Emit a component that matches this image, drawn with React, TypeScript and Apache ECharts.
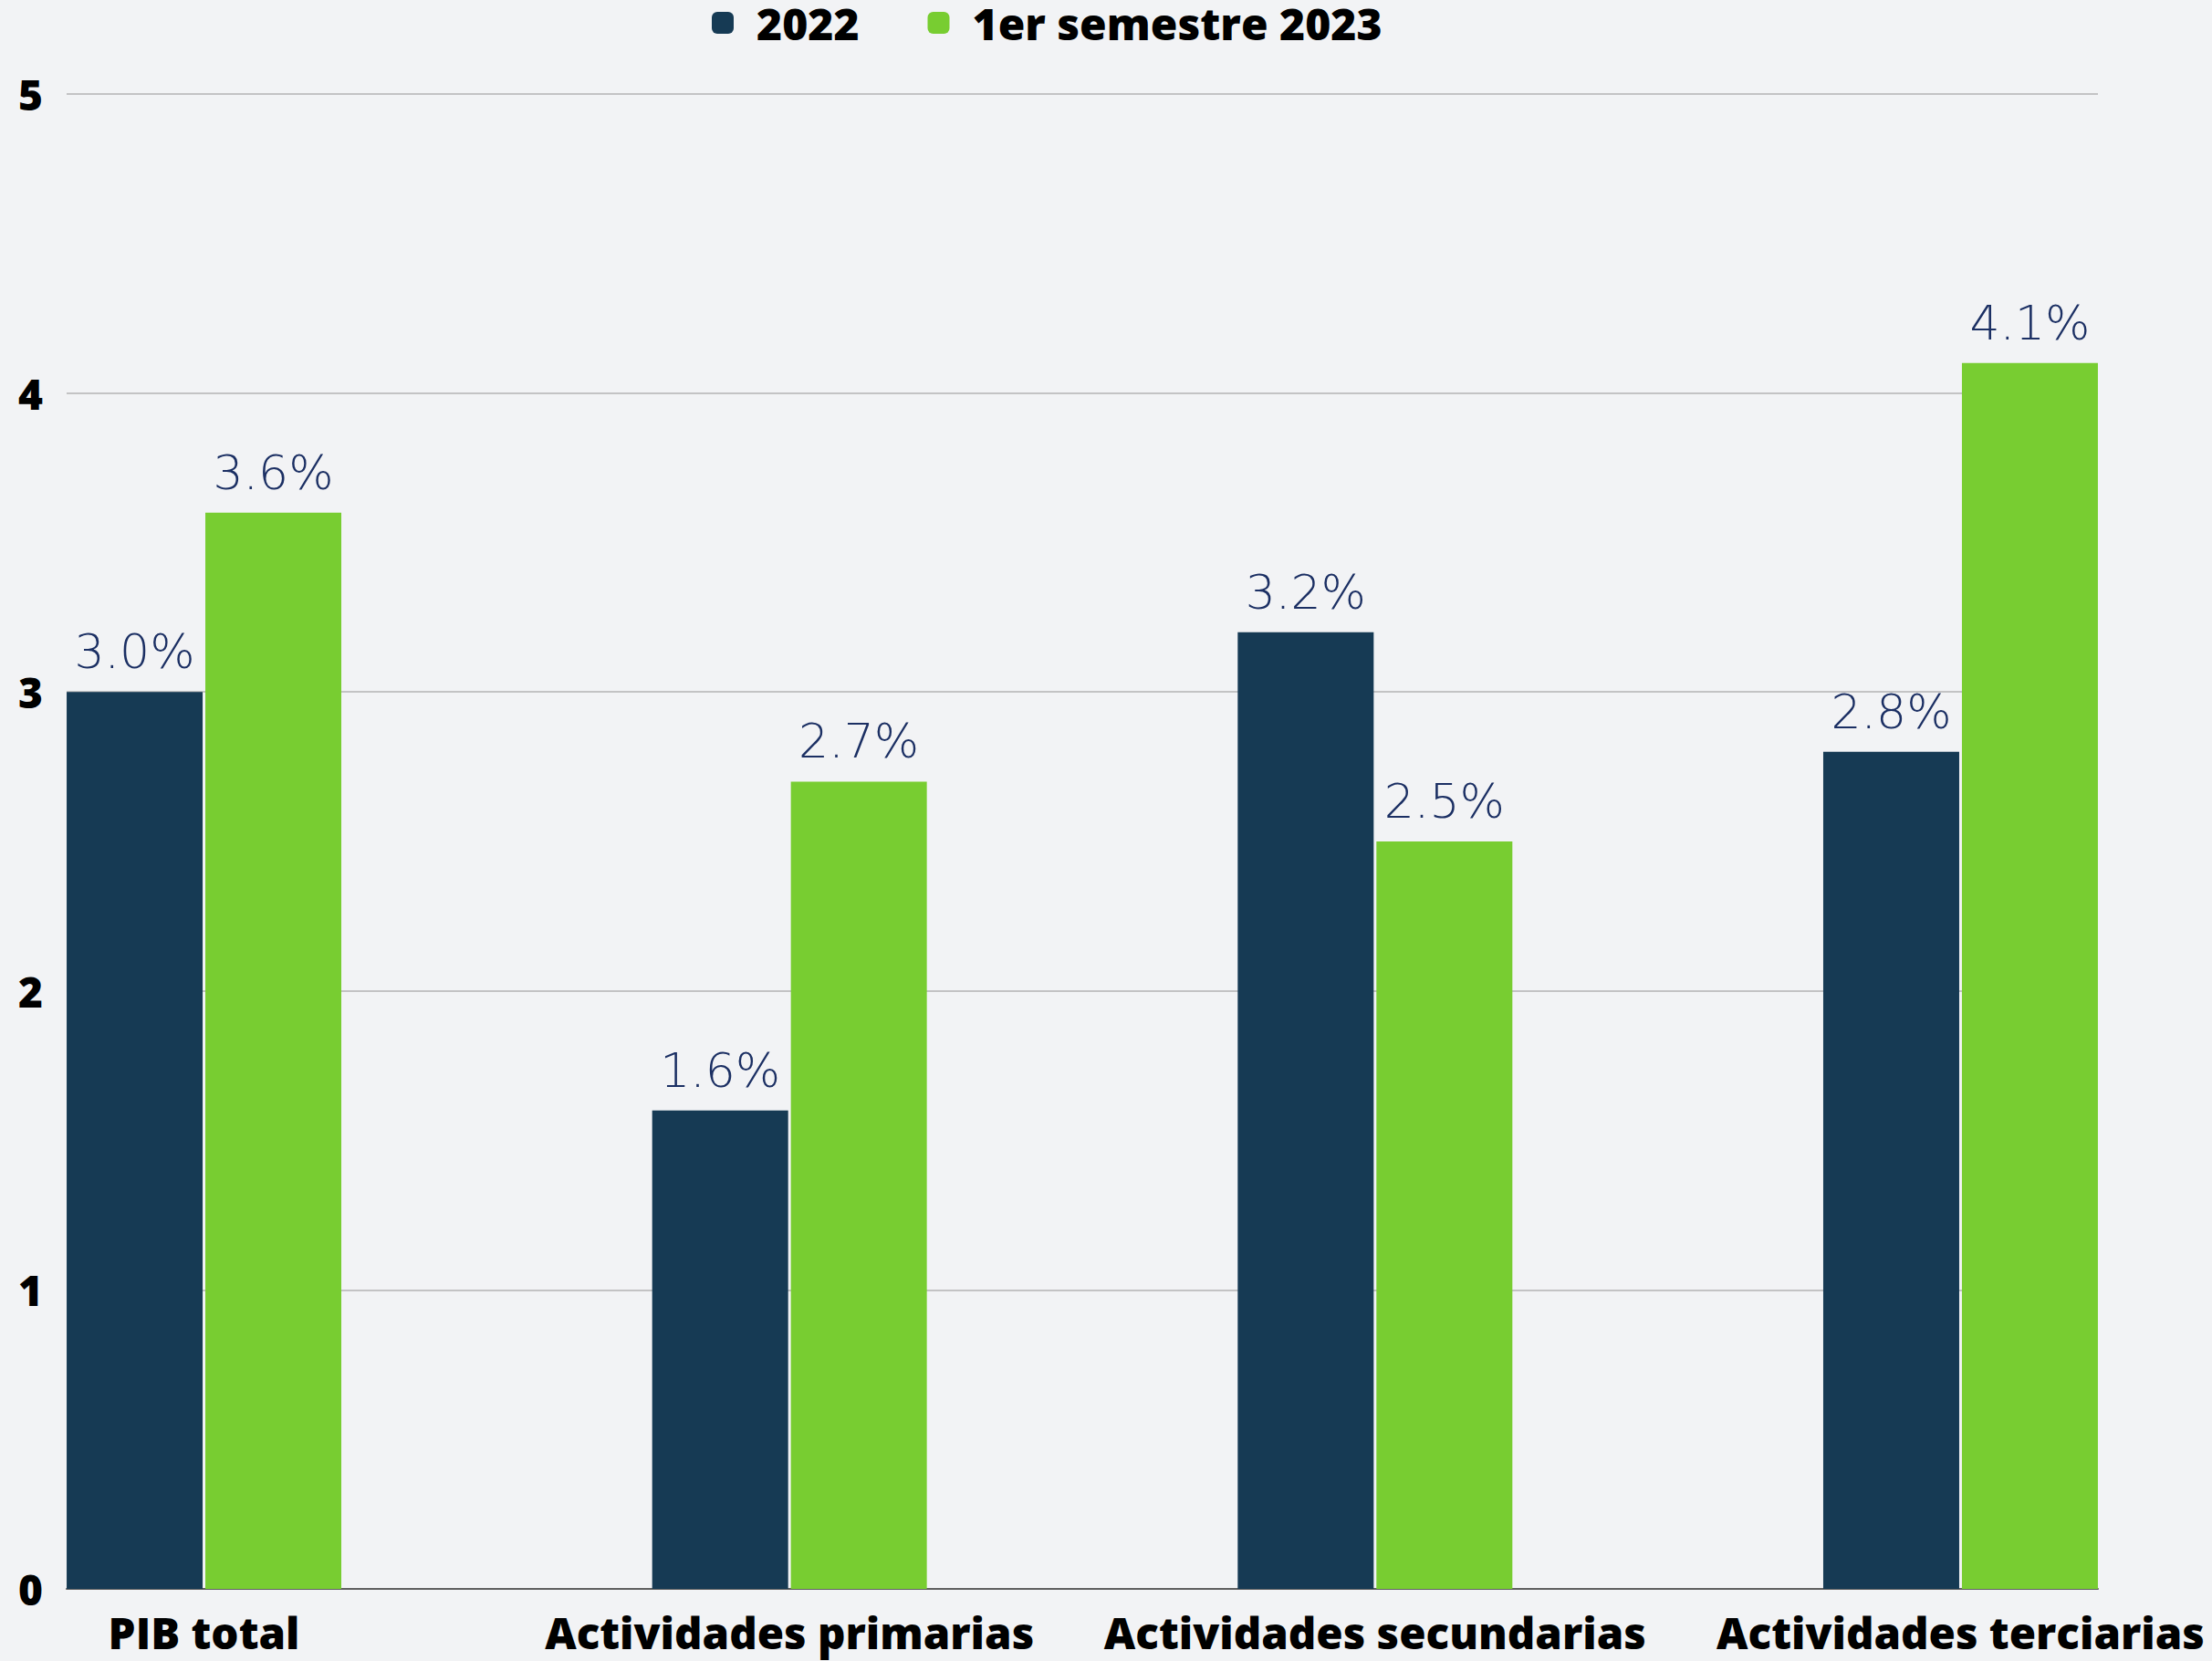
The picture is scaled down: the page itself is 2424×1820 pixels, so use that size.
import React, { useEffect, useRef } from "react";
import * as echarts from "echarts";

const categories = ["PIB total", "Actividades primarias", "Actividades secundarias", "Actividades terciarias"];
const series2022 = [3.0, 1.6, 3.2, 2.8];
const series2023 = [3.6, 2.7, 2.5, 4.1];
const seriesNames = ["2022", "1er semestre 2023"];
const yTicks = [0, 1, 2, 3, 4, 5];

export default function App() {
  const ref = useRef<HTMLDivElement>(null);
  useEffect(() => {
    if (!ref.current) return;
    const chart = echarts.init(ref.current, undefined, { renderer: "svg" });
    const pos = categories.map((_, i) => i);
    const labelStyle = {
      show: true,
      position: "top",
      distance: 18,
      formatter: (p: any) => Number(p.value[1]).toFixed(1) + "%",
      color: "#1b2f63",
      fontFamily: "DejaVu Sans",
      fontWeight: 200,
      fontSize: 52,
    };
    chart.setOption({
      animation: false,
      backgroundColor: "#f2f3f5",
      legend: {
        left: 780,
        top: 1,
        padding: 0,
        itemWidth: 24,
        itemHeight: 24,
        itemGap: 75,
        icon: "roundRect",
        data: seriesNames,
        textStyle: {
          fontFamily: "Open Sans",
          fontWeight: 800,
          fontSize: 48,
          lineHeight: 48,
          color: "#000",
          padding: [0, 0, 0, 20],
        },
      },
      grid: { left: 73, right: 2424 - 2299, top: 103, bottom: 1820 - 1741, containLabel: false },
      xAxis: {
        type: "value",
        min: -0.2346,
        max: 3.2346,
        splitLine: { show: false },
        axisTick: { show: false },
        axisLine: { show: true, onZero: false, lineStyle: { color: "#5f5f5f", width: 2 } },
        axisLabel: {
          customValues: pos,
          formatter: (v: number) => categories[Math.round(v)] ?? "",
          fontFamily: "Open Sans",
          fontWeight: 800,
          fontSize: 47.5,
          lineHeight: 46,
          color: "#000",
          margin: 24,
        },
      },
      yAxis: {
        type: "value",
        min: 0,
        max: 5,
        interval: 1,
        axisLine: { show: false },
        axisTick: { show: false },
        splitLine: { show: true, lineStyle: { color: "#b3b3b3", width: 1.5 } },
        axisLabel: {
          formatter: (v: number) => (yTicks.includes(v) ? String(v) : ""),
          fontFamily: "Open Sans",
          fontWeight: 800,
          fontSize: 46,
          color: "#000",
          margin: 26,
        },
      },
      series: [
        {
          name: seriesNames[0],
          type: "bar",
          barWidth: 149,
          barGap: "2%",
          data: series2022.map((v, i) => [pos[i], v]),
          itemStyle: { color: "#163a54" },
          label: labelStyle,
        },
        {
          name: seriesNames[1],
          type: "bar",
          barWidth: 149,
          barGap: "2%",
          data: series2023.map((v, i) => [pos[i], v]),
          itemStyle: { color: "#78cd31" },
          label: labelStyle,
        },
      ],
    });
    return () => chart.dispose();
  }, []);
  return (
    <div
      ref={ref}
      style={{ position: "absolute", left: 0, top: 0, width: 2424, height: 1820 }}
    />
  );
}
